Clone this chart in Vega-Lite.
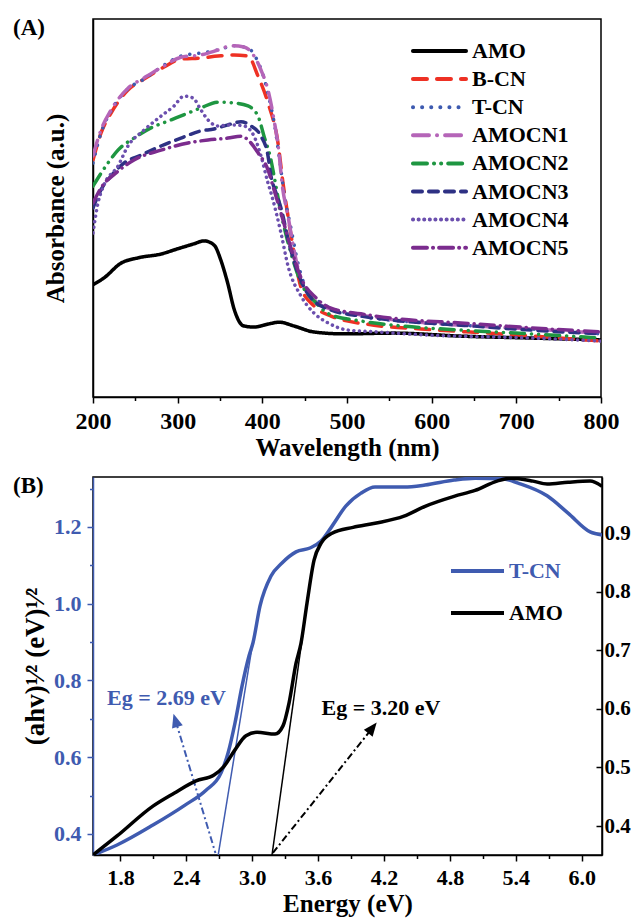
{
  "$schema": "https://vega.github.io/schema/vega-lite/v6.json",
  "background": "white",
  "padding": {"left": 12, "top": 16, "right": 5, "bottom": 5},
  "autosize": {"type": "pad"},
  "config": {
    "font": "Liberation Serif",
    "view": {"stroke": "black", "strokeWidth": 1.5},
    "axis": {"labelFont": "Liberation Serif", "labelFontWeight": "bold", "titleFont": "Liberation Serif", "titleFontWeight": "bold", "labelColor": "black", "titleColor": "black", "domainColor": "black", "tickColor": "black", "domainWidth": 1.5, "tickWidth": 1.5, "grid": false, "labelFlush": false, "labelOverlap": false},
    "legend": {"labelFont": "Liberation Serif", "labelFontWeight": "bold", "labelColor": "black"},
    "title": {"font": "Liberation Serif", "fontWeight": "bold", "fontSize": 23, "color": "black"},
    "text": {"font": "Liberation Serif"}
  },
  "datasets": {
    "uv": [
      {"sample":"AMO","nm":200,"abs":0.297},{"sample":"AMO","nm":213,"abs":0.315},{"sample":"AMO","nm":233,"abs":0.354},{"sample":"AMO","nm":253,"abs":0.368},{"sample":"AMO","nm":280,"abs":0.378},{"sample":"AMO","nm":300,"abs":0.392},{"sample":"AMO","nm":319,"abs":0.405},{"sample":"AMO","nm":331,"abs":0.413},{"sample":"AMO","nm":343,"abs":0.402},{"sample":"AMO","nm":351,"abs":0.362},{"sample":"AMO","nm":359,"abs":0.302},{"sample":"AMO","nm":367,"abs":0.230},{"sample":"AMO","nm":378,"abs":0.188},{"sample":"AMO","nm":390,"abs":0.185},{"sample":"AMO","nm":407,"abs":0.193},{"sample":"AMO","nm":420,"abs":0.198},{"sample":"AMO","nm":437,"abs":0.188},{"sample":"AMO","nm":461,"abs":0.172},{"sample":"AMO","nm":496,"abs":0.167},{"sample":"AMO","nm":555,"abs":0.169},{"sample":"AMO","nm":635,"abs":0.161},{"sample":"AMO","nm":717,"abs":0.156},{"sample":"AMO","nm":800,"abs":0.151},
      {"sample":"B-CN","nm":200,"abs":0.627},{"sample":"B-CN","nm":209.4,"abs":0.698},{"sample":"B-CN","nm":221.3,"abs":0.751},{"sample":"B-CN","nm":241.3,"abs":0.812},{"sample":"B-CN","nm":260.2,"abs":0.841},{"sample":"B-CN","nm":283.9,"abs":0.873},{"sample":"B-CN","nm":303.9,"abs":0.894},{"sample":"B-CN","nm":327.6,"abs":0.897},{"sample":"B-CN","nm":347.6,"abs":0.902},{"sample":"B-CN","nm":366.5,"abs":0.905},{"sample":"B-CN","nm":383.1,"abs":0.902},{"sample":"B-CN","nm":394.9,"abs":0.849},{"sample":"B-CN","nm":406.7,"abs":0.778},{"sample":"B-CN","nm":418.5,"abs":0.672},{"sample":"B-CN","nm":424.4,"abs":0.566},{"sample":"B-CN","nm":430.3,"abs":0.479},{"sample":"B-CN","nm":437.4,"abs":0.381},{"sample":"B-CN","nm":445.7,"abs":0.290},{"sample":"B-CN","nm":461,"abs":0.241},{"sample":"B-CN","nm":481.1,"abs":0.214},{"sample":"B-CN","nm":531.9,"abs":0.190},{"sample":"B-CN","nm":587.4,"abs":0.180},{"sample":"B-CN","nm":681.9,"abs":0.167},{"sample":"B-CN","nm":800,"abs":0.148},
      {"sample":"T-CN","nm":200,"abs":0.619},{"sample":"T-CN","nm":209.4,"abs":0.698},{"sample":"T-CN","nm":221.3,"abs":0.757},{"sample":"T-CN","nm":241.3,"abs":0.815},{"sample":"T-CN","nm":260.2,"abs":0.841},{"sample":"T-CN","nm":283.9,"abs":0.878},{"sample":"T-CN","nm":303.9,"abs":0.902},{"sample":"T-CN","nm":327.6,"abs":0.910},{"sample":"T-CN","nm":347.6,"abs":0.918},{"sample":"T-CN","nm":366.5,"abs":0.929},{"sample":"T-CN","nm":383.1,"abs":0.923},{"sample":"T-CN","nm":392.6,"abs":0.897},{"sample":"T-CN","nm":400.8,"abs":0.852},{"sample":"T-CN","nm":407.9,"abs":0.791},{"sample":"T-CN","nm":415,"abs":0.712},{"sample":"T-CN","nm":420.9,"abs":0.619},{"sample":"T-CN","nm":425.6,"abs":0.540},{"sample":"T-CN","nm":433.8,"abs":0.447},{"sample":"T-CN","nm":442.1,"abs":0.354},{"sample":"T-CN","nm":451.6,"abs":0.288},{"sample":"T-CN","nm":469.3,"abs":0.249},{"sample":"T-CN","nm":516.5,"abs":0.214},{"sample":"T-CN","nm":563.8,"abs":0.201},{"sample":"T-CN","nm":634.6,"abs":0.190},{"sample":"T-CN","nm":717.3,"abs":0.180},{"sample":"T-CN","nm":800,"abs":0.167},
      {"sample":"AMOCN1","nm":200,"abs":0.638},{"sample":"AMOCN1","nm":209.4,"abs":0.706},{"sample":"AMOCN1","nm":221.3,"abs":0.759},{"sample":"AMOCN1","nm":241.3,"abs":0.817},{"sample":"AMOCN1","nm":260.2,"abs":0.844},{"sample":"AMOCN1","nm":283.9,"abs":0.876},{"sample":"AMOCN1","nm":303.9,"abs":0.899},{"sample":"AMOCN1","nm":327.6,"abs":0.905},{"sample":"AMOCN1","nm":347.6,"abs":0.918},{"sample":"AMOCN1","nm":363,"abs":0.929},{"sample":"AMOCN1","nm":378.3,"abs":0.926},{"sample":"AMOCN1","nm":390.2,"abs":0.902},{"sample":"AMOCN1","nm":398.4,"abs":0.865},{"sample":"AMOCN1","nm":406.7,"abs":0.812},{"sample":"AMOCN1","nm":413.8,"abs":0.733},{"sample":"AMOCN1","nm":419.7,"abs":0.646},{"sample":"AMOCN1","nm":423.2,"abs":0.566},{"sample":"AMOCN1","nm":430.3,"abs":0.479},{"sample":"AMOCN1","nm":437.4,"abs":0.389},{"sample":"AMOCN1","nm":445.7,"abs":0.310},{"sample":"AMOCN1","nm":461,"abs":0.257},{"sample":"AMOCN1","nm":477.6,"abs":0.235},{"sample":"AMOCN1","nm":516.5,"abs":0.217},{"sample":"AMOCN1","nm":555.5,"abs":0.204},{"sample":"AMOCN1","nm":595.6,"abs":0.196},{"sample":"AMOCN1","nm":634.6,"abs":0.190},{"sample":"AMOCN1","nm":717.3,"abs":0.180},{"sample":"AMOCN1","nm":800,"abs":0.169},
      {"sample":"AMOCN2","nm":200,"abs":0.558},{"sample":"AMOCN2","nm":217.7,"abs":0.619},{"sample":"AMOCN2","nm":229.5,"abs":0.653},{"sample":"AMOCN2","nm":248.4,"abs":0.685},{"sample":"AMOCN2","nm":268.5,"abs":0.712},{"sample":"AMOCN2","nm":288.6,"abs":0.730},{"sample":"AMOCN2","nm":312.2,"abs":0.751},{"sample":"AMOCN2","nm":327.6,"abs":0.765},{"sample":"AMOCN2","nm":347.6,"abs":0.780},{"sample":"AMOCN2","nm":366.5,"abs":0.778},{"sample":"AMOCN2","nm":383.1,"abs":0.770},{"sample":"AMOCN2","nm":394.9,"abs":0.743},{"sample":"AMOCN2","nm":402,"abs":0.690},{"sample":"AMOCN2","nm":410.2,"abs":0.627},{"sample":"AMOCN2","nm":413.8,"abs":0.585},{"sample":"AMOCN2","nm":422,"abs":0.487},{"sample":"AMOCN2","nm":433.8,"abs":0.381},{"sample":"AMOCN2","nm":445.7,"abs":0.302},{"sample":"AMOCN2","nm":463.4,"abs":0.249},{"sample":"AMOCN2","nm":481.1,"abs":0.217},{"sample":"AMOCN2","nm":516.5,"abs":0.201},{"sample":"AMOCN2","nm":563.8,"abs":0.188},{"sample":"AMOCN2","nm":634.6,"abs":0.177},{"sample":"AMOCN2","nm":717.3,"abs":0.167},{"sample":"AMOCN2","nm":800,"abs":0.156},
      {"sample":"AMOCN3","nm":200,"abs":0.500},{"sample":"AMOCN3","nm":209.4,"abs":0.548},{"sample":"AMOCN3","nm":221.3,"abs":0.585},{"sample":"AMOCN3","nm":236.6,"abs":0.619},{"sample":"AMOCN3","nm":256.7,"abs":0.640},{"sample":"AMOCN3","nm":280.3,"abs":0.664},{"sample":"AMOCN3","nm":303.9,"abs":0.685},{"sample":"AMOCN3","nm":327.6,"abs":0.704},{"sample":"AMOCN3","nm":342.9,"abs":0.709},{"sample":"AMOCN3","nm":359.4,"abs":0.720},{"sample":"AMOCN3","nm":374.8,"abs":0.728},{"sample":"AMOCN3","nm":386.6,"abs":0.717},{"sample":"AMOCN3","nm":398.4,"abs":0.690},{"sample":"AMOCN3","nm":406.7,"abs":0.638},{"sample":"AMOCN3","nm":410.2,"abs":0.585},{"sample":"AMOCN3","nm":416.1,"abs":0.540},{"sample":"AMOCN3","nm":422,"abs":0.500},{"sample":"AMOCN3","nm":431.5,"abs":0.407},{"sample":"AMOCN3","nm":442.1,"abs":0.328},{"sample":"AMOCN3","nm":457.5,"abs":0.262},{"sample":"AMOCN3","nm":481.1,"abs":0.230},{"sample":"AMOCN3","nm":516.5,"abs":0.214},{"sample":"AMOCN3","nm":563.8,"abs":0.201},{"sample":"AMOCN3","nm":634.6,"abs":0.190},{"sample":"AMOCN3","nm":717.3,"abs":0.177},{"sample":"AMOCN3","nm":800,"abs":0.167},
      {"sample":"AMOCN4","nm":200,"abs":0.434},{"sample":"AMOCN4","nm":205.9,"abs":0.513},{"sample":"AMOCN4","nm":213,"abs":0.561},{"sample":"AMOCN4","nm":229.5,"abs":0.611},{"sample":"AMOCN4","nm":241.3,"abs":0.664},{"sample":"AMOCN4","nm":260.2,"abs":0.706},{"sample":"AMOCN4","nm":280.3,"abs":0.743},{"sample":"AMOCN4","nm":295.7,"abs":0.770},{"sample":"AMOCN4","nm":307.5,"abs":0.796},{"sample":"AMOCN4","nm":318.1,"abs":0.791},{"sample":"AMOCN4","nm":327.6,"abs":0.759},{"sample":"AMOCN4","nm":335.8,"abs":0.733},{"sample":"AMOCN4","nm":347.6,"abs":0.717},{"sample":"AMOCN4","nm":363,"abs":0.720},{"sample":"AMOCN4","nm":378.3,"abs":0.717},{"sample":"AMOCN4","nm":390.2,"abs":0.690},{"sample":"AMOCN4","nm":398.4,"abs":0.638},{"sample":"AMOCN4","nm":406.7,"abs":0.566},{"sample":"AMOCN4","nm":410.2,"abs":0.540},{"sample":"AMOCN4","nm":422,"abs":0.434},{"sample":"AMOCN4","nm":430.3,"abs":0.347},{"sample":"AMOCN4","nm":445.7,"abs":0.267},{"sample":"AMOCN4","nm":461,"abs":0.222},{"sample":"AMOCN4","nm":477.6,"abs":0.196},{"sample":"AMOCN4","nm":501.2,"abs":0.177},{"sample":"AMOCN4","nm":536.6,"abs":0.172},{"sample":"AMOCN4","nm":595.6,"abs":0.164},{"sample":"AMOCN4","nm":717.3,"abs":0.156},{"sample":"AMOCN4","nm":800,"abs":0.148},
      {"sample":"AMOCN5","nm":200,"abs":0.513},{"sample":"AMOCN5","nm":209.4,"abs":0.553},{"sample":"AMOCN5","nm":227.2,"abs":0.593},{"sample":"AMOCN5","nm":248.4,"abs":0.627},{"sample":"AMOCN5","nm":280.3,"abs":0.653},{"sample":"AMOCN5","nm":312.2,"abs":0.672},{"sample":"AMOCN5","nm":335.8,"abs":0.680},{"sample":"AMOCN5","nm":359.4,"abs":0.685},{"sample":"AMOCN5","nm":374.8,"abs":0.690},{"sample":"AMOCN5","nm":386.6,"abs":0.672},{"sample":"AMOCN5","nm":394.9,"abs":0.646},{"sample":"AMOCN5","nm":406.7,"abs":0.601},{"sample":"AMOCN5","nm":413.8,"abs":0.548},{"sample":"AMOCN5","nm":422,"abs":0.487},{"sample":"AMOCN5","nm":433.8,"abs":0.394},{"sample":"AMOCN5","nm":445.7,"abs":0.315},{"sample":"AMOCN5","nm":463.4,"abs":0.262},{"sample":"AMOCN5","nm":481.1,"abs":0.235},{"sample":"AMOCN5","nm":516.5,"abs":0.220},{"sample":"AMOCN5","nm":563.8,"abs":0.206},{"sample":"AMOCN5","nm":634.6,"abs":0.196},{"sample":"AMOCN5","nm":717.3,"abs":0.183},{"sample":"AMOCN5","nm":800,"abs":0.172}
    ],
    "tcn": [
      {"curve":"T-CN","energy":1.55,"value":0.345},{"curve":"T-CN","energy":1.769,"value":0.371},{"curve":"T-CN","energy":2.096,"value":0.423},{"curve":"T-CN","energy":2.388,"value":0.475},{"curve":"T-CN","energy":2.579,"value":0.514},{"curve":"T-CN","energy":2.716,"value":0.559},{"curve":"T-CN","energy":2.78,"value":0.611},{"curve":"T-CN","energy":2.843,"value":0.689},{"curve":"T-CN","energy":2.907,"value":0.785},{"curve":"T-CN","energy":2.971,"value":0.864},{"curve":"T-CN","energy":3.007,"value":0.898},{"curve":"T-CN","energy":3.071,"value":0.994},{"curve":"T-CN","energy":3.171,"value":1.072},{"curve":"T-CN","energy":3.271,"value":1.106},{"curve":"T-CN","energy":3.399,"value":1.135},{"curve":"T-CN","energy":3.526,"value":1.145},{"curve":"T-CN","energy":3.627,"value":1.163},{"curve":"T-CN","energy":3.727,"value":1.202},{"curve":"T-CN","energy":3.854,"value":1.255},{"curve":"T-CN","energy":3.991,"value":1.288},{"curve":"T-CN","energy":4.118,"value":1.304},{"curve":"T-CN","energy":4.382,"value":1.304},{"curve":"T-CN","energy":4.574,"value":1.309},{"curve":"T-CN","energy":4.838,"value":1.322},{"curve":"T-CN","energy":5.029,"value":1.327},{"curve":"T-CN","energy":5.293,"value":1.325},{"curve":"T-CN","energy":5.421,"value":1.314},{"curve":"T-CN","energy":5.685,"value":1.281},{"curve":"T-CN","energy":5.876,"value":1.236},{"curve":"T-CN","energy":6.077,"value":1.187},{"curve":"T-CN","energy":6.186,"value":1.179}
    ],
    "amo": [
      {"curve":"AMO","energy":1.55,"value":0.3505},{"curve":"AMO","energy":1.769,"value":0.383},{"curve":"AMO","energy":2.096,"value":0.434},{"curve":"AMO","energy":2.288,"value":0.456},{"curve":"AMO","energy":2.488,"value":0.477},{"curve":"AMO","energy":2.652,"value":0.487},{"curve":"AMO","energy":2.743,"value":0.502},{"curve":"AMO","energy":2.843,"value":0.53},{"curve":"AMO","energy":2.943,"value":0.554},{"curve":"AMO","energy":3.044,"value":0.56},{"curve":"AMO","energy":3.208,"value":0.557},{"curve":"AMO","energy":3.28,"value":0.571},{"curve":"AMO","energy":3.335,"value":0.61},{"curve":"AMO","energy":3.399,"value":0.678},{"curve":"AMO","energy":3.444,"value":0.712},{"curve":"AMO","energy":3.499,"value":0.781},{"curve":"AMO","energy":3.563,"value":0.854},{"curve":"AMO","energy":3.627,"value":0.883},{"curve":"AMO","energy":3.727,"value":0.9},{"curve":"AMO","energy":3.918,"value":0.91},{"curve":"AMO","energy":4.118,"value":0.917},{"curve":"AMO","energy":4.382,"value":0.929},{"curve":"AMO","energy":4.574,"value":0.946},{"curve":"AMO","energy":4.838,"value":0.963},{"curve":"AMO","energy":5.029,"value":0.973},{"curve":"AMO","energy":5.229,"value":0.989},{"curve":"AMO","energy":5.357,"value":0.994},{"curve":"AMO","energy":5.557,"value":0.989},{"curve":"AMO","energy":5.685,"value":0.984},{"curve":"AMO","energy":5.876,"value":0.987},{"curve":"AMO","energy":6.077,"value":0.989},{"curve":"AMO","energy":6.186,"value":0.98}
    ],
    "tcn_tan": [{"energy":2.69,"value":0.345},{"energy":3.0,"value":0.89}],
    "amo_tan": [{"energy":3.18,"value":0.3505},{"energy":3.5,"value":0.781}],
    "tcn_arrow": [{"energy":2.665,"value":0.35},{"energy":2.304,"value":0.693}],
    "amo_arrow": [{"energy":3.188,"value":0.354},{"energy":4.088,"value":0.566}],
    "tcn_head": [{"energy":2.304,"value":0.693}],
    "amo_head": [{"energy":4.088,"value":0.566}],
    "tcn_label": [{"label":"Eg = 2.69 eV","energy":2.219,"value":0.736}],
    "amo_label": [{"label":"Eg = 3.20 eV","energy":4.173,"value":0.589}]
  },
  "spacing": 80,
  "bounds": "flush",
  "resolve": {"scale": {"color": "independent", "strokeDash": "independent", "x": "independent", "y": "independent"}},
  "vconcat": [
    {
      "width": 508,
      "height": 378,
      "title": {"text": "(A)", "anchor": "start", "frame": "group", "orient": "top", "dx": -80, "dy": 21, "offset": 0, "baseline": "top"},
      "data": {"name": "uv"},
      "mark": {"type": "line", "strokeWidth": 3.5, "strokeCap": "round", "interpolate": "monotone", "clip": true},
      "encoding": {
        "x": {"field": "nm", "type": "quantitative", "scale": {"domain": [200, 800], "nice": false, "zero": false},
          "axis": {"values": [200,250,300,350,400,450,500,550,600,650,700,750,800], "tickSize": {"condition": {"test": "datum.value % 100 === 0", "value": 6}, "value": 3.5}, "labelExpr": "datum.value % 100 === 0 ? datum.label : ''", "labelFontSize": 24, "labelPadding": 6, "title": "Wavelength (nm)", "titleFontSize": 25, "titlePadding": 2}},
        "y": {"field": "abs", "type": "quantitative", "scale": {"domain": [0, 1], "nice": false, "zero": false},
          "axis": {"labels": false, "ticks": false, "title": "Absorbance (a.u.)", "titleFontSize": 25, "titlePadding": 25}},
        "color": {"field": "sample", "type": "nominal",
          "scale": {"domain": ["AMO","B-CN","T-CN","AMOCN1","AMOCN2","AMOCN3","AMOCN4","AMOCN5"], "range": ["#000000","#EE3124","#3D5AB0","#B565B8","#1E9641","#2E3184","#6B4FAE","#7B2C8E"]},
          "legend": {"title": null, "orient": "none", "legendX": 332.5, "legendY": 18, "symbolType": "M-2.21,0H2.21", "symbolSize": 576, "symbolStrokeWidth": 4, "labelFontSize": 22, "labelOffset": 18.5, "rowPadding": 3.1, "padding": 0, "labelLimit": 300,
            "encode": {"symbols": {"update": {"strokeCap": {"value": "round"}}}}}},
        "strokeDash": {"field": "sample", "type": "nominal",
          "scale": {"domain": ["AMO","B-CN","T-CN","AMOCN1","AMOCN2","AMOCN3","AMOCN4","AMOCN5"], "range": [[1,0],[14,10],[0.1,9],[16,8,0.1,8],[14,7,0.1,7,0.1,7],[9,7],[0.1,5.5],[14,6,0.1,6]]},
          "legend": {"title": null, "orient": "none", "legendX": 332.5, "legendY": 18, "symbolType": "M-2.21,0H2.21", "symbolSize": 576, "symbolStrokeWidth": 4, "labelFontSize": 22, "labelOffset": 18.5, "rowPadding": 3.1, "padding": 0, "labelLimit": 300,
            "encode": {"symbols": {"update": {"strokeCap": {"value": "round"}}}}}}
      }
    },
    {
      "width": 509,
      "height": 378,
      "title": {"text": "(B)", "anchor": "start", "frame": "group", "orient": "top", "dx": -80, "dy": 21, "offset": 0, "baseline": "top"},
      "resolve": {"scale": {"y": "independent"}},
      "encoding": {
        "x": {"field": "energy", "type": "quantitative", "scale": {"domain": [1.55, 6.185], "nice": false, "zero": false},
          "axis": {"values": [1.8,2.1,2.4,2.7,3.0,3.3,3.6,3.9,4.2,4.5,4.8,5.1,5.4,5.7,6.0], "tickSize": {"condition": {"test": "round(datum.value*10)%6===0", "value": 6}, "value": 3.5}, "labelExpr": "round(datum.value*10)%6===0 ? format(datum.value,'.1f') : ''", "labelFontSize": 22, "labelPadding": 6, "title": "Energy (eV)", "titleFontSize": 25, "titlePadding": 3}}
      },
      "layer": [
        {
          "data": {"name": "tcn"},
          "mark": {"type": "line", "strokeWidth": 3.5, "interpolate": "monotone", "clip": true},
          "encoding": {
            "y": {"field": "value", "type": "quantitative", "scale": {"domain": [0.345, 1.33], "nice": false, "zero": false},
              "axis": {"orient": "left", "values": [0.4,0.5,0.6,0.7,0.8,0.9,1.0,1.1,1.2,1.3], "tickSize": {"condition": {"test": "round(datum.value*10)%2===0", "value": 6}, "value": 3.5}, "labelExpr": "round(datum.value*10)%2===0 ? format(datum.value,'.1f') : ''", "labelFontSize": 22, "labelPadding": 6, "labelColor": "#3F5BB0", "tickColor": "#3F5BB0", "domainColor": "#3F5BB0", "title": "(ahv)¹⁄² (eV)¹⁄²", "titleFontSize": 27, "titlePadding": 4, "titleColor": "black"}},
            "color": {"field": "curve", "type": "nominal", "scale": {"domain": ["T-CN", "AMO"], "range": ["#3F5BB0", "#000000"]},
              "legend": {"title": null, "orient": "none", "legendX": 363.5, "legendY": 73, "symbolType": "M-1.395,0H1.395", "symbolSize": 1444, "symbolStrokeWidth": 4, "labelFontSize": 22, "labelOffset": 10.5, "rowPadding": 10, "padding": 0,
                "encode": {"labels": {"update": {"fill": {"signal": "datum.value === 'T-CN' ? '#3F5BB0' : '#000000'"}}}}}}
          }
        },
        {
          "data": {"name": "tcn_tan"},
          "mark": {"type": "line", "color": "#3F5BB0", "strokeWidth": 1.5, "clip": true},
          "encoding": {
            "y": {"field": "value", "type": "quantitative", "scale": {"domain": [0.345, 1.33], "nice": false, "zero": false}, "axis": null}
          }
        },
        {
          "data": {"name": "tcn_arrow"},
          "mark": {"type": "line", "color": "#3F5BB0", "strokeWidth": 2, "strokeDash": [7, 3, 2, 3]},
          "encoding": {
            "y": {"field": "value", "type": "quantitative", "scale": {"domain": [0.345, 1.33], "nice": false, "zero": false}, "axis": null}
          }
        },
        {
          "data": {"name": "tcn_head"},
          "mark": {"type": "point", "shape": "M0,-1L0.7,0.7L-0.7,0.7Z", "size": 256, "filled": true, "color": "#3F5BB0", "opacity": 1, "angle": -16.7},
          "encoding": {
            "y": {"field": "value", "type": "quantitative", "scale": {"domain": [0.345, 1.33], "nice": false, "zero": false}, "axis": null}
          }
        },
        {
          "data": {"name": "tcn_label"},
          "mark": {"type": "text", "color": "#3F5BB0", "fontSize": 22, "fontWeight": "bold", "align": "center", "baseline": "alphabetic"},
          "encoding": {
            "y": {"field": "value", "type": "quantitative", "scale": {"domain": [0.345, 1.33], "nice": false, "zero": false}, "axis": null},
            "text": {"field": "label", "type": "nominal"}
          }
        },
        {
          "data": {"name": "amo"},
          "mark": {"type": "line", "strokeWidth": 3.5, "interpolate": "monotone", "clip": true},
          "encoding": {
            "y": {"field": "value", "type": "quantitative", "scale": {"domain": [0.3505, 0.996], "nice": false, "zero": false},
              "axis": {"orient": "right", "values": [0.4,0.5,0.6,0.7,0.8,0.9], "format": ".1f", "tickSize": -6, "labelFontSize": 21, "labelPadding": 8, "title": null}},
            "color": {"field": "curve", "type": "nominal", "scale": {"domain": ["T-CN", "AMO"], "range": ["#3F5BB0", "#000000"]}}
          }
        },
        {
          "data": {"name": "amo_tan"},
          "mark": {"type": "line", "color": "#000000", "strokeWidth": 1.5, "clip": true},
          "encoding": {
            "y": {"field": "value", "type": "quantitative", "scale": {"domain": [0.3505, 0.996], "nice": false, "zero": false}, "axis": null}
          }
        },
        {
          "data": {"name": "amo_arrow"},
          "mark": {"type": "line", "color": "#000000", "strokeWidth": 2, "strokeDash": [7, 3, 2, 3]},
          "encoding": {
            "y": {"field": "value", "type": "quantitative", "scale": {"domain": [0.3505, 0.996], "nice": false, "zero": false}, "axis": null}
          }
        },
        {
          "data": {"name": "amo_head"},
          "mark": {"type": "point", "shape": "M0,-1L0.7,0.7L-0.7,0.7Z", "size": 256, "filled": true, "color": "#000000", "opacity": 1, "angle": 38.5},
          "encoding": {
            "y": {"field": "value", "type": "quantitative", "scale": {"domain": [0.3505, 0.996], "nice": false, "zero": false}, "axis": null}
          }
        },
        {
          "data": {"name": "amo_label"},
          "mark": {"type": "text", "color": "#000000", "fontSize": 22, "fontWeight": "bold", "align": "center", "baseline": "alphabetic"},
          "encoding": {
            "y": {"field": "value", "type": "quantitative", "scale": {"domain": [0.3505, 0.996], "nice": false, "zero": false}, "axis": null},
            "text": {"field": "label", "type": "nominal"}
          }
        }
      ]
    }
  ]
}
